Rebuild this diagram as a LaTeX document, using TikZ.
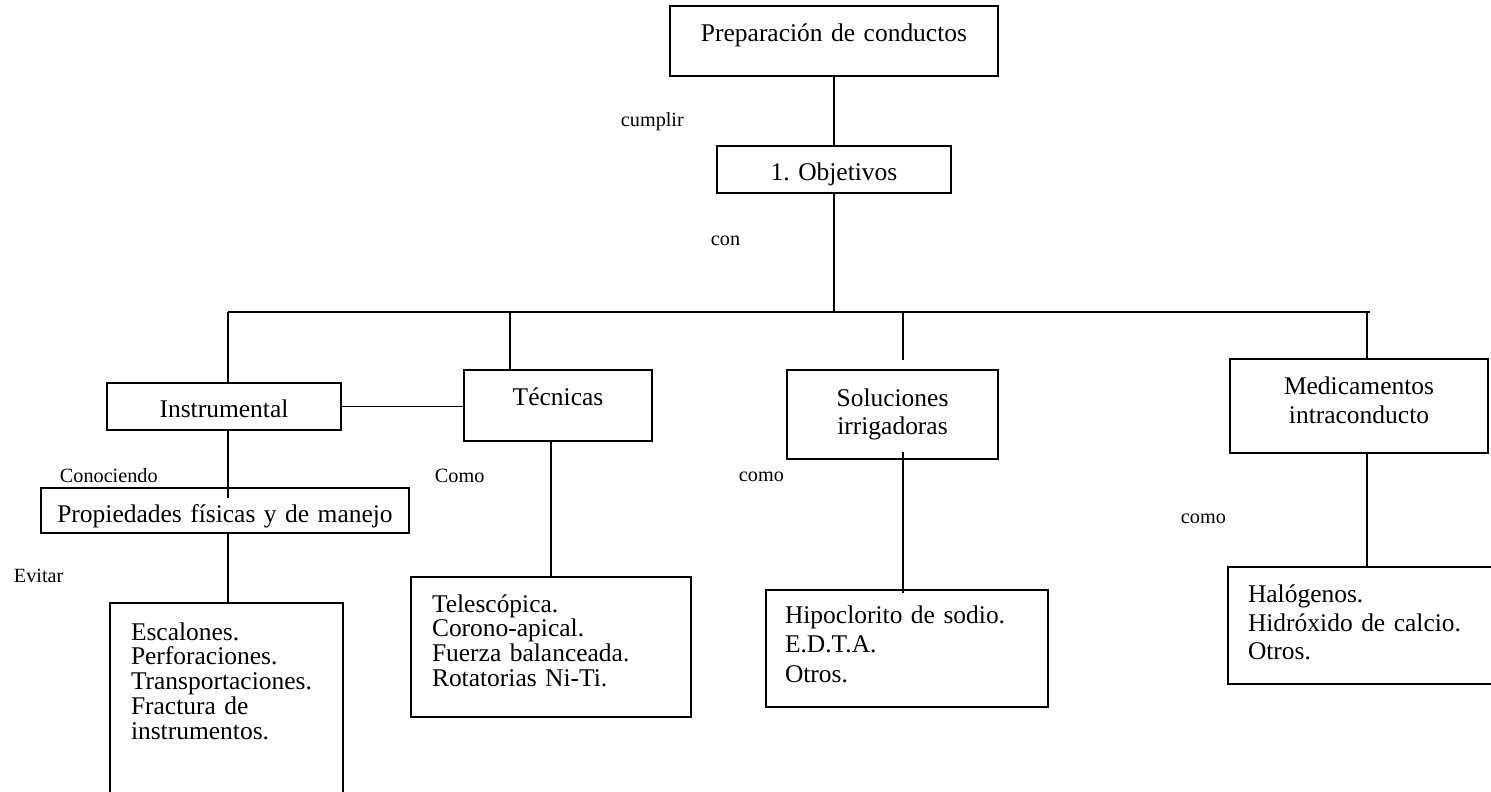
\documentclass[tikz,border=0pt]{standalone}
\usepackage{fontspec}
\setmainfont{Liberation Serif}
\usetikzlibrary{calc}
\frenchspacing

\begin{document}
\begin{tikzpicture}[x=0.2mm, y=-0.2mm, line width=1.1pt,
    caja/.style={draw, anchor=north west, inner ysep=0pt, outer sep=0pt,
      font=\fontsize{14.5}{17}\selectfont},
    centro/.style={caja, align=center, inner xsep=0pt},
    lista/.style={caja, align=left},
    etiqueta/.style={font=\fontsize{11.5}{13}\selectfont, inner sep=0pt, anchor=base west}]
            \clip (0,0) rectangle (1491,792);
            \fill[white] (0,0) rectangle (1491,792);

            % cajas de arriba
            \node[centro, text width=65.6mm, text height=7.2mm, text depth=6.8mm] (prep) at (670,6) {Preparación de conductos};
            \node[centro, text width=46.8mm, text height=6.8mm, text depth=2.6mm] (obj) at (717,146) {1. Objetivos};

            % segundo nivel
            \node[centro, text width=46.8mm, text height=6.8mm, text depth=2.6mm] (instr) at (107,383) {Instrumental};
            \node[centro, text width=37.6mm, text height=7mm, text depth=7.2mm] (tec) at (464,370) {Técnicas};
            \node[centro, text width=42.2mm, text height=7.2mm, text depth=10.6mm,
              font=\fontsize{14.5}{16.5}\selectfont] (sol) at (787,370) {Soluciones\\irrigadoras};
            \node[centro, text width=51.6mm, text height=7mm, text depth=11.8mm] (med) at (1230,359) {Medicamentos\\intraconducto};
            \node[centro, text width=73.6mm, text height=6.8mm, text depth=2.2mm] (prop) at (41,488) {Propiedades físicas y de manejo};

            % listas
            \node[lista, inner xsep=4.2mm, text width=38.2mm, text height=7.4mm, text depth=34mm,
              font=\fontsize{14.5}{14.2}\selectfont] (esc) at (110,603)
              {Escalones.\\Perforaciones.\\Transportaciones.\\Fractura de\\instrumentos.};
            \node[lista, inner xsep=4.2mm, text width=47.6mm, text height=7mm, text depth=21mm,
              font=\fontsize{14.5}{14.2}\selectfont] (tel) at (411,577)
              {Telescópica.\\Corono-apical.\\Fuerza balanceada.\\Rotatorias Ni-Ti.};
            \node[lista, inner xsep=3.8mm, text width=48.8mm, text height=6.6mm, text depth=16.8mm] (hip) at (766,590)
              {Hipoclorito de sodio.\\E.D.T.A.\\Otros.};
            \node[lista, inner xsep=4mm, text width=52mm, text height=7mm, text depth=16.4mm,
              font=\fontsize{14.5}{16.5}\selectfont] (hal) at (1228,567)
              {Halógenos.\\Hidróxido de calcio.\\Otros.};

            % etiquetas
            \node[etiqueta] (cumplir) at (620,127) {cumplir};
            \node[etiqueta] (con) at (710,245) {con};
            \node[etiqueta] (conociendo) at (59,482) {Conociendo};
            \node[etiqueta] (comoTec) at (434,482) {Como};
            \node[etiqueta] (comoSol) at (738,481) {como};
            \node[etiqueta] (comoMed) at (1180,523) {como};
            \node[etiqueta] (evitar) at (13,582) {Evitar};

            % puntos de la barra
            \coordinate (barraI) at (228,312);
            \coordinate (barraD) at (1370,312);
            \coordinate (tronco) at (834,312);
            \coordinate (jTec) at (510,312);
            \coordinate (jSol) at (903,312);
            \coordinate (finSol) at (903,360);
            \coordinate (jMed) at (1367,312);

            \draw (prep.south) -- (obj.north);
            \draw (obj.south) -- (tronco);
            \draw (barraI) -- (barraD);
            \draw (barraI) -- (barraI |- instr.north);
            \draw (jTec) -- (jTec |- tec.north);
            \draw (jSol) -- (finSol);
            \draw (jMed) -- (jMed |- med.north);
            \draw (instr.east) -- (instr.east -| tec.west);
            \draw (barraI |- instr.south) -- ($(barraI |- prop.north)+(0,10)$);
            \draw (barraI |- prop.south) -- (barraI |- esc.north);
            \draw (tel.north |- tec.south) -- (tel.north);
            \draw ($(jSol |- sol.south)+(0,-7)$) -- ($(jSol |- hip.north)+(0,3)$);
            \draw (jMed |- med.south) -- (jMed |- hal.north);
        \end{tikzpicture}
\end{document}
